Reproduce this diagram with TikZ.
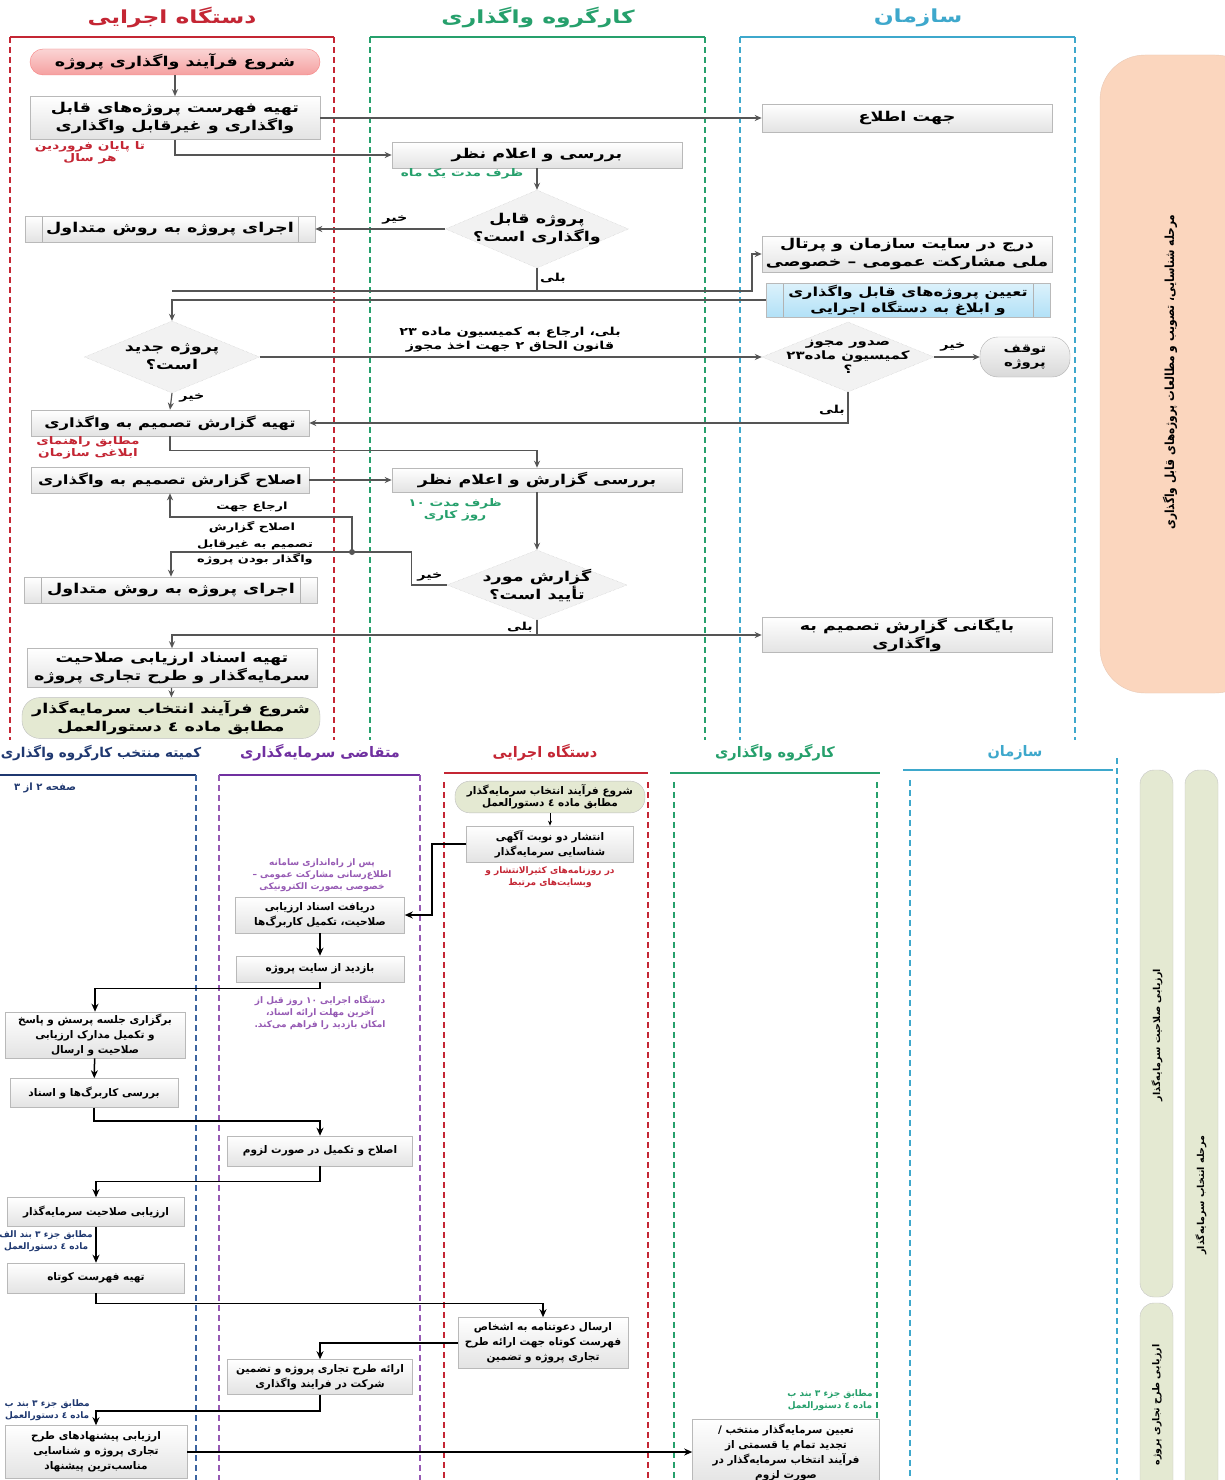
\documentclass[tikz,border=0pt]{standalone}
\usepackage{fontspec}
\usetikzlibrary{shapes.geometric,arrows.meta,calc}
\newfontfamily\fa[Script=Arabic]{DejaVu Sans}
\newfontfamily\faW[Script=Arabic,FakeStretch=1.3]{DejaVu Sans}
\newfontfamily\faN[Script=Arabic,FakeStretch=0.85]{DejaVu Sans}
\TeXXeTstate=1
\newcommand\R[1]{\beginR #1\endR}
\newcommand\fBox{\faW\bfseries\fontsize{13.5}{18}\selectfont}
\newcommand\fBoxT{\faW\bfseries\fontsize{12.8}{18}\selectfont}
\newcommand\fBoxM{\faW\bfseries\fontsize{11.5}{14}\selectfont}
\newcommand\fBoxS{\fa\bfseries\fontsize{10.5}{15}\selectfont}
\newcommand\fAnn{\faW\bfseries\fontsize{10.5}{12.5}\selectfont}
\newcommand\fAnnB{\fa\bfseries\fontsize{10.5}{12.5}\selectfont}
\newcommand\fAnnS{\fa\bfseries\fontsize{9}{12}\selectfont}
\newcommand\fLab{\faW\bfseries\fontsize{11}{14}\selectfont}
\newcommand\fHead{\faW\bfseries\fontsize{18}{20}\selectfont}
\newcommand\fHeadS{\fa\bfseries\fontsize{14.5}{18}\selectfont}
\newcommand\fBand{\faN\bfseries\fontsize{12.5}{14}\selectfont}
\newcommand\fBandS{\fa\bfseries\fontsize{9.5}{12}\selectfont}
\definecolor{cRed}{RGB}{196,38,52}
\definecolor{cGreen}{RGB}{38,160,108}
\definecolor{cTeal}{RGB}{62,168,204}
\definecolor{cNavy}{RGB}{31,56,112}
\definecolor{cNavyL}{RGB}{60,100,160}
\definecolor{cPurple}{RGB}{112,48,160}
\definecolor{cPurpleL}{RGB}{150,90,180}
\definecolor{cPeach}{RGB}{251,214,190}
\definecolor{cOlive}{RGB}{228,233,210}
\definecolor{cPink}{RGB}{245,160,160}
\definecolor{cBlue}{RGB}{178,225,247}
\definecolor{cLine}{RGB}{85,85,85}
\begin{document}
\begin{tikzpicture}[x=1pt,y=-1pt,
  box/.style={draw=gray!55, line width=0.6pt, top color=white, bottom color=gray!22, align=center, inner sep=1pt, font=\fBox},
  boxB/.style={box, font=\fBoxS},
  proc/.style={box, path picture={\draw[gray!60, line width=0.6pt]
     ([xshift=17pt]path picture bounding box.north west) -- ([xshift=17pt]path picture bounding box.south west)
     ([xshift=-17pt]path picture bounding box.north east) -- ([xshift=-17pt]path picture bounding box.south east);}},
  procb/.style={proc, top color=cBlue!45, bottom color=cBlue},
  dia/.style={diamond, aspect=2.4, draw=gray!45, densely dotted, fill=gray!10, align=center, inner sep=-3pt, font=\fBox},
  pinkpill/.style={draw=cPink!80!red, top color=cPink!45, bottom color=cPink, rounded corners=13pt, align=center, font=\fBox},
  olivepill/.style={draw=gray!50, fill=cOlive, rounded corners=18pt, align=center, font=\fBox},
  stopp/.style={draw=gray!60, top color=gray!5, bottom color=gray!30, rounded corners=18pt, align=center, font=\fBoxM},
  ann/.style={align=center, inner sep=0pt, font=\fAnn},
  annS/.style={align=center, inner sep=0pt, font=\fAnnS},
  lab/.style={align=center, inner sep=0pt, font=\fLab},
  ln/.style={draw=cLine, line width=1.2pt},
  arr/.style={ln, -{Stealth[length=7pt,width=6pt]}},
  lnB/.style={draw=black, line width=1.5pt},
  arrB/.style={lnB, -{Stealth[length=8pt,width=7pt]}},
  lane/.style={line width=1.4pt, dash pattern=on 6pt off 4pt},
  lanetop/.style={line width=1.6pt},
  band/.style={draw=gray!45, fill=cOlive, rounded corners=14pt},
]
\useasboundingbox (0,0) rectangle (1224,1480);
\fill[white] (0,0) rectangle (1224,1480);

% ---------- top section lanes ----------
\node[font=\fHead, text=cRed] (h1) at (172,18) {\R{دستگاه اجرایی}};
\node[font=\fHead, text=cGreen] (h2) at (538,18) {\R{کارگروه واگذاری}};
\node[font=\fHead, text=cTeal] (h3) at (918,18) {\R{سازمان}};
\draw[cRed, lanetop] (10,37) -- (334,37);
\draw[cRed, lane] (10,37) -- (10,740) (334,37) -- (334,740);
\draw[cGreen, lanetop] (370,37) -- (705,37);
\draw[cGreen, lane] (370,37) -- (370,740) (705,37) -- (705,740);
\draw[cTeal, lanetop] (740,37) -- (1075,37);
\draw[cTeal, lane] (740,37) -- (740,740) (1075,37) -- (1075,740);

\draw[cPeach!85!gray, fill=cPeach, rounded corners=45pt] (1100,55) rectangle (1260,693);
\node[rotate=90, font=\fBand] (bandtop) at (1170,372) {\R{مرحله شناسایی، تصویب و مطالعات پروژه‌های قابل واگذاری}};

% ---------- top section nodes ----------
\node[pinkpill, minimum width=290, minimum height=26] (t1) at (175,62) {\R{شروع فرآیند واگذاری پروژه}};
\node[box, minimum width=290, minimum height=43] (t2) at (175,118) {\R{تهیه فهرست پروژه‌های قابل}\\\R{واگذاری و غیرقابل واگذاری}};
\node[ann, text=cRed] (a1) at (90,153) {\R{تا پایان فروردین}\\\R{هر سال}};
\node[box, minimum width=290, minimum height=28] (t3) at (907,118) {\R{جهت اطلاع}};
\node[box, minimum width=290, minimum height=26] (t4) at (537,155) {\R{بررسی و اعلام نظر}};
\node[ann, text=cGreen] (a2) at (462,174) {\R{ظرف مدت یک ماه}};
\node[dia, minimum width=180, minimum height=78] (t5) at (537,229) {\R{پروژه قابل}\\\R{واگذاری است؟}};
\node[proc, minimum width=290, minimum height=26] (t6) at (170,229) {\R{اجرای پروژه به روش متداول}};
\node[box, minimum width=290, minimum height=36] (t7) at (907,254) {\R{درج در سایت سازمان و پرتال}\\\R{ملی مشارکت عمومی – خصوصی}};
\node[procb, minimum width=284, minimum height=34, font=\faW\bfseries\fontsize{12.5}{16}\selectfont] (t8) at (908,300) {\R{تعیین پروژه‌های قابل واگذاری}\\\R{و ابلاغ به دستگاه اجرایی}};
\node[dia, minimum width=175, minimum height=72] (t9) at (172,357) {\R{پروژه جدید}\\\R{است؟}};
\node[dia, font=\fBoxM, inner sep=-7pt, minimum width=172, minimum height=70] (t10) at (848,357) {\R{صدور مجوز}\\\R{کمیسیون ماده۲۳}\\\R{؟}};
\node[stopp, minimum width=90, minimum height=40] (t11) at (1025,357) {\R{توقف}\\\R{پروژه}};
\node[box, font=\fBoxT, minimum width=278, minimum height=26] (t12) at (170,423) {\R{تهیه گزارش تصمیم به واگذاری}};
\node[ann, text=cRed] (a3) at (88,448) {\R{مطابق راهنمای}\\\R{ابلاغی سازمان}};
\node[box, font=\fBoxT, minimum width=278, minimum height=26] (t13) at (170,480) {\R{اصلاح گزارش تصمیم به واگذاری}};
\node[box, minimum width=290, minimum height=24] (t14) at (537,480) {\R{بررسی گزارش و اعلام نظر}};
\node[ann, text=cGreen] (a4) at (455,510) {\R{ظرف مدت ۱۰}\\\R{روز کاری}};
\node[dia, minimum width=180, minimum height=70] (t15) at (537,585) {\R{گزارش مورد}\\\R{تأیید است؟}};
\node[proc, minimum width=293, minimum height=26] (t16) at (171,590) {\R{اجرای پروژه به روش متداول}};
\node[box, minimum width=290, minimum height=34] (t17) at (907,635) {\R{بایگانی گزارش تصمیم به}\\\R{واگذاری}};
\node[box, minimum width=290, minimum height=39] (t18) at (172,668) {\R{تهیه اسناد ارزیابی صلاحیت}\\\R{سرمایه‌گذار و طرح تجاری پروژه}};
\node[olivepill, minimum width=298, minimum height=38] (t19) at (171,718) {\R{شروع فرآیند انتخاب سرمایه‌گذار}\\\R{مطابق ماده ٤ دستورالعمل}};

% ---------- top section connectors ----------
\coordinate (c1) at (537,291);
\coordinate (c2) at (752,291);
\coordinate (c3) at (172,291);
\coordinate (j) at (352,552);
\coordinate (k1) at (352,517);
\draw[arr] (t1) -- (t2);
\draw[arr] (t2.east) -- (t3.west);
\draw[arr] (t2.south) |- (t4.west);
\draw[arr] (t4) -- (t5);
\draw[arr] (t5.west) -- (t6.east);
\node[lab] (l1) at (395,220) {\R{خیر}};
\draw[arr] (t5.south) -- (c1) -- (c2) |- (t7.west);
\draw[ln] (c1) -- (c3);
\node[lab] (l2) at (553,278) {\R{بلی}};
\draw[arr] (t8.west) -| (t9.north);
\draw[arr] (t9.east) -- (t10.west);
\node[lab] (l3) at (510,340) {\R{بلی، ارجاع به کمیسیون ماده ۲۳}\\\R{قانون الحاق ۲ جهت اخذ مجوز}};
\draw[arr] (t10.east) -- (t11.west);
\node[lab] (l4) at (953,347) {\R{خیر}};
\draw[arr] (t10.south) |- (t12.east);
\node[lab] (l5) at (832,410) {\R{بلی}};
\draw[arr] (t9.south) -- (t12.north);
\node[lab] (l6) at (192,398) {\R{خیر}};
\draw[arr] (t12.south) -- ++(0,14) -| (t14.north);
\draw[arr] (t13.east) -- (t14.west);
\draw[arr] (t14) -- (t15);
\draw[ln] (t15.west) -- ++(-35,0) |- (j);
\node[lab] (l7) at (430,577) {\R{خیر}};
\fill[cLine] (j) circle (3);
\draw[arr] (j) -| (t16.north);
\draw[arr] (j) -- (k1) -| (t13.south);
\node[lab, font=\faW\bfseries\fontsize{10}{21}\selectfont] (l8) at (252,517) {\R{ارجاع جهت}\\\R{اصلاح گزارش}};
\node[lab, font=\faW\bfseries\fontsize{10}{15}\selectfont] (l9) at (255,552) {\R{تصمیم به غیرقابل}\\\R{واگذار بودن پروژه}};
\draw[arr] (t15.south) |- (t17.west);
\draw[arr] (t15.south |- t17.west) -| (t18.north);
\node[lab] (l10) at (520,627) {\R{بلی}};
\draw[arr] (t18) -- (t19);

% ---------- bottom section lanes ----------
\node[font=\fa\bfseries\fontsize{13.5}{16}\selectfont, text=cNavy] (g1) at (101,753) {\R{کمیته منتخب کارگروه واگذاری}};
\node[font=\fHeadS, text=cPurple] (g2) at (320,753) {\R{متقاضی سرمایه‌گذاری}};
\node[font=\fHeadS, text=cRed] (g3) at (545,753) {\R{دستگاه اجرایی}};
\node[font=\fHeadS, text=cGreen] (g4) at (775,753) {\R{کارگروه واگذاری}};
\node[font=\fHeadS, text=cTeal] (g5) at (1015,753) {\R{سازمان}};
\draw[cNavy, lanetop] (0,775) -- (196,775);
\draw[cNavyL, lane] (196,775) -- (196,1480);
\draw[cPurple, lanetop] (219,775) -- (420,775);
\draw[cPurpleL, lane] (219,775) -- (219,1480) (420,775) -- (420,1480);
\draw[cRed, lanetop] (444,773) -- (648,773);
\draw[cRed, lane] (444,782) -- (444,1480) (648,782) -- (648,1480);
\draw[cGreen, lanetop] (670,773) -- (880,773);
\draw[cGreen, lane] (674,782) -- (674,1480) (877,782) -- (877,1480);
\draw[cTeal, lanetop] (903,770) -- (1113,770);
\draw[cTeal, lane] (910,780) -- (910,1480) (1117,758) -- (1117,1480);

\draw[band] (1140,770) rectangle (1173,1297);
\draw[band] (1140,1303) rectangle (1173,1500);
\draw[band] (1185,770) rectangle (1218,1500);
\node[rotate=90, font=\fBandS] (bd1) at (1157,1035) {\R{ارزیابی صلاحیت سرمایه‌گذار}};
\node[rotate=90, font=\fBandS] (bd2) at (1157,1405) {\R{ارزیابی طرح تجاری پروژه}};
\node[rotate=90, font=\fBandS] (bd3) at (1201,1195) {\R{مرحله انتخاب سرمایه‌گذار}};

\node[annS, text=cNavy, font=\fa\bfseries\fontsize{10}{12}\selectfont] (pg) at (45,788) {\R{صفحه ۲ از ۳}};

% ---------- bottom section nodes ----------
\node[olivepill, font=\fAnnB, rounded corners=15pt, minimum width=190, minimum height=31] (b1) at (550,797) {\R{شروع فرآیند انتخاب سرمایه‌گذار}\\\R{مطابق ماده ٤ دستورالعمل}};
\node[boxB, minimum width=167, minimum height=36] (b2) at (550,844) {\R{انتشار دو نوبت آگهی}\\\R{شناسایی سرمایه‌گذار}};
\node[annS, text=cRed] (a5) at (550,877) {\R{در روزنامه‌های کثیرالانتشار و}\\\R{وبسایت‌های مرتبط}};
\node[annS, text=cPurpleL] (a6) at (322,875) {\R{پس از راه‌اندازی سامانه}\\\R{اطلاع‌رسانی مشارکت عمومی –}\\\R{خصوصی بصورت الکترونیکی}};
\node[boxB, minimum width=169, minimum height=36] (b3) at (320,915) {\R{دریافت اسناد ارزیابی}\\\R{صلاحیت، تکمیل کاربرگ‌ها}};
\node[boxB, minimum width=168, minimum height=26] (b4) at (320,969) {\R{بازدید از سایت پروژه}};
\node[annS, text=cPurpleL] (a7) at (320,1012) {\R{دستگاه اجرایی ۱۰ روز قبل از}\\\R{آخرین مهلت ارائه اسناد،}\\\R{امکان بازدید را فراهم می‌کند.}};
\node[boxB, minimum width=180, minimum height=46] (b5) at (95,1035) {\R{برگزاری جلسه پرسش و پاسخ}\\\R{و تکمیل مدارک ارزیابی}\\\R{صلاحیت و ارسال}};
\node[boxB, minimum width=168, minimum height=29] (b6) at (94,1093) {\R{بررسی کاربرگ‌ها و اسناد}};
\node[boxB, minimum width=185, minimum height=30] (b7) at (320,1151) {\R{اصلاح و تکمیل در صورت لزوم}};
\node[boxB, minimum width=177, minimum height=29] (b8) at (96,1212) {\R{ارزیابی صلاحیت سرمایه‌گذار}};
\node[annS, text=cNavy, anchor=east] (a8) at (93,1241) {\R{مطابق جزء ۳ بند الف}\\\R{ماده ٤ دستورالعمل}};
\node[boxB, minimum width=177, minimum height=30] (b9) at (96,1278) {\R{تهیه فهرست کوتاه}};
\node[boxB, minimum width=170, minimum height=51] (b10) at (543,1343) {\R{ارسال دعوتنامه به اشخاص}\\\R{فهرست کوتاه جهت ارائه طرح}\\\R{تجاری پروژه و تضمین}};
\node[boxB, minimum width=185, minimum height=35] (b11) at (320,1377) {\R{ارائه طرح تجاری پروژه و تضمین}\\\R{شرکت در فرایند واگذاری}};
\node[annS, text=cNavy, anchor=east] (a9) at (90,1410) {\R{مطابق جزء ۳ بند ب}\\\R{ماده ٤ دستورالعمل}};
\node[boxB, minimum width=182, minimum height=53] (b12) at (96,1452) {\R{ارزیابی پیشنهادهای طرح}\\\R{تجاری پروژه و شناسایی}\\\R{مناسب‌ترین پیشنهاد}};
\node[annS, text=cGreen] (a10) at (830,1400) {\R{مطابق جزء ۳ بند ب}\\\R{ماده ٤ دستورالعمل}};
\node[boxB, minimum width=187, minimum height=66] (b13) at (786,1452) {\R{تعیین سرمایه‌گذار منتخب /}\\\R{تجدید تمام یا قسمتی از}\\\R{فرآیند انتخاب سرمایه‌گذار در}\\\R{صورت لزوم}};

% ---------- bottom section connectors ----------
\draw[arrB, line width=0.8pt, -{Stealth[length=5pt,width=4pt]}] (b1) -- (b2);
\draw[arrB] (b2.west) -- ++(-34,0) |- (b3.east);
\draw[arrB] (b3) -- (b4);
\draw[arrB] (b4.south) -- ++(0,6) -| (b5.north);
\draw[arrB] (b5) -- (b6);
\draw[arrB] (b6.south) -- ++(0,13) -| (b7.north);
\draw[arrB] (b7.south) -- ++(0,15) -| (b8.north);
\draw[arrB] (b8) -- (b9);
\draw[arrB] (b9.south) -- ++(0,10) -| (b10.north);
\draw[arrB] (b10.west) -| (b11.north);
\draw[arrB] (b11.south) -- ++(0,16) -| (b12.north);
\draw[arrB] (b12.east) -- (b13.west |- b12.east);
\end{tikzpicture}
\end{document}
